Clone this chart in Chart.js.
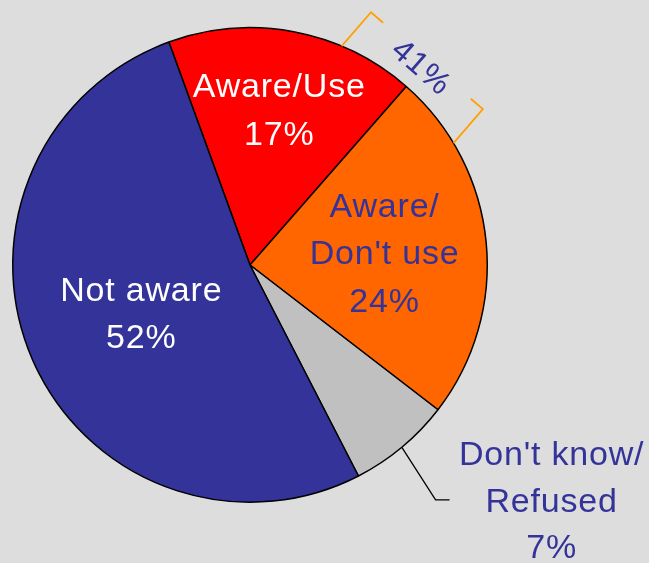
<!DOCTYPE html>
<html>
<head>
<meta charset="utf-8">
<script src="https://cdn.jsdelivr.net/npm/chart.js@4"></script>
<style>
    html, body { margin: 0; padding: 0; background: #dddddd; }
    #wrap { width: 649px; height: 563px; position: relative; }
</style>
</head>
<body>
<div id="wrap"><canvas id="awareChart"></canvas></div>
<script>
// Awareness split — categories (one entry per text line) and shares in %
const categories = [["Aware/Use"], ["Aware/", "Don't use"], ["Don't know/", "Refused"], ["Not aware"]];
const shares = [17, 24, 7, 52];
const sliceColors = ["#ff0000", "#ff6600", "#c0c0c0", "#333399"];
// slices summed by the bracket callout (both "aware" groups)
const awareGroup = [0, 1];

const NAVY = "#333399";
const FONT = "34px 'Liberation Sans', Arial, sans-serif";
const CAP = 12.2;   // half cap height, used to centre caps on a point
const LH = 47.5;

// label placement per slice: radial fraction, text colour, inside/outside
const labelStyle = [
    { f: 0.67, color: "#ffffff" },
    { f: 0.57, color: NAVY },
    { outside: true, color: NAVY },
    { f: 0.50, color: "#ffffff" }
];

function drawLines(ctx, lines, x, y) {
    const top = y - (lines.length - 1) * LH / 2;
    lines.forEach((t, i) => ctx.fillText(t, x, top + i * LH + CAP));
}

const sliceLabels = {
    id: "sliceLabels",
    afterDatasetsDraw(chart) {
        const ctx = chart.ctx;
        const arcs = chart.getDatasetMeta(0).data;
        ctx.save();
        ctx.font = FONT;
        ctx.letterSpacing = "0.8px";
        ctx.textAlign = "center";
        ctx.textBaseline = "alphabetic";
        arcs.forEach((arc, i) => {
            const st = labelStyle[i];
            const mid = (arc.startAngle + arc.endAngle) / 2;
            const R = arc.outerRadius;
            const lines = categories[i].concat([shares[i] + "%"]);
            ctx.fillStyle = st.color;
            if (!st.outside) {
                drawLines(ctx, lines, arc.x + Math.cos(mid) * R * st.f,
                    arc.y + Math.sin(mid) * R * st.f);
                return;
            }
            // leader line from the rim out to an elbow, then short horizontal
            const bend = mid + 1.5 * Math.PI / 180;
            const sx = arc.x + Math.cos(mid) * R, sy = arc.y + Math.sin(mid) * R;
            const ex = arc.x + Math.cos(bend) * R * 1.262, ey = arc.y + Math.sin(bend) * R * 1.262;
            ctx.strokeStyle = "#000000";
            ctx.lineWidth = 1.3;
            ctx.beginPath();
            ctx.moveTo(sx, sy);
            ctx.lineTo(ex, ey);
            ctx.lineTo(ex + 14, ey);
            ctx.stroke();
            ctx.fillText(lines[0], ex + 116, ey - 47 + CAP);
            ctx.fillText(lines[1], ex + 116, ey + CAP);
            ctx.fillText(lines[2], ex + 116, ey + 46 + CAP);
        });

        // bracket callout with the combined share of the aware groups
        const a0 = arcs[0];
        const R = a0.outerRadius;
        const phi = 40.9 * Math.PI / 180;           // from 12 o'clock, clockwise
        const u = [Math.sin(phi), -Math.cos(phi)];   // outward
        const v = [Math.cos(phi), Math.sin(phi)];    // along the rim
        const half = 74, reach = R + 33, serif = 16;
        const pt = (a, b) => [a0.x + u[0] * a + v[0] * b, a0.y + u[1] * a + v[1] * b];
        const inner = Math.sqrt(R * R - half * half);
        ctx.strokeStyle = "#ffa000";
        ctx.lineWidth = 1.8;
        [-1, 1].forEach(s => {
            const p1 = pt(inner, s * half), p2 = pt(reach, s * half), p3 = pt(reach, s * (half - serif));
            ctx.beginPath();
            ctx.moveTo(p1[0], p1[1]);
            ctx.lineTo(p2[0], p2[1]);
            ctx.lineTo(p3[0], p3[1]);
            ctx.stroke();
        });
        const total = awareGroup.reduce((s, k) => s + shares[k], 0);
        const c = pt(reach - 7, 0);
        ctx.translate(c[0], c[1]);
        ctx.rotate(phi);
        ctx.font = "32px 'Liberation Sans', Arial, sans-serif";
        ctx.letterSpacing = "1px";
        ctx.fillStyle = NAVY;
        ctx.fillText(total + "%", 0, 11.5);
        ctx.restore();
    }
};

new Chart(document.getElementById("awareChart"), {
    type: "pie",
    data: {
        labels: categories.map(c => c.join(" ")),
        datasets: [{
            data: shares,
            backgroundColor: sliceColors,
            borderColor: "#000000",
            borderWidth: 1.5
        }]
    },
    options: {
        responsive: true,
        maintainAspectRatio: false,
        animation: false,
        rotation: -20,
        layout: { padding: { left: 12, top: 27, right: 161, bottom: 60 } },
        plugins: {
            legend: { display: false },
            tooltip: { enabled: false }
        }
    },
    plugins: [sliceLabels]
});
</script>
</body>
</html>
